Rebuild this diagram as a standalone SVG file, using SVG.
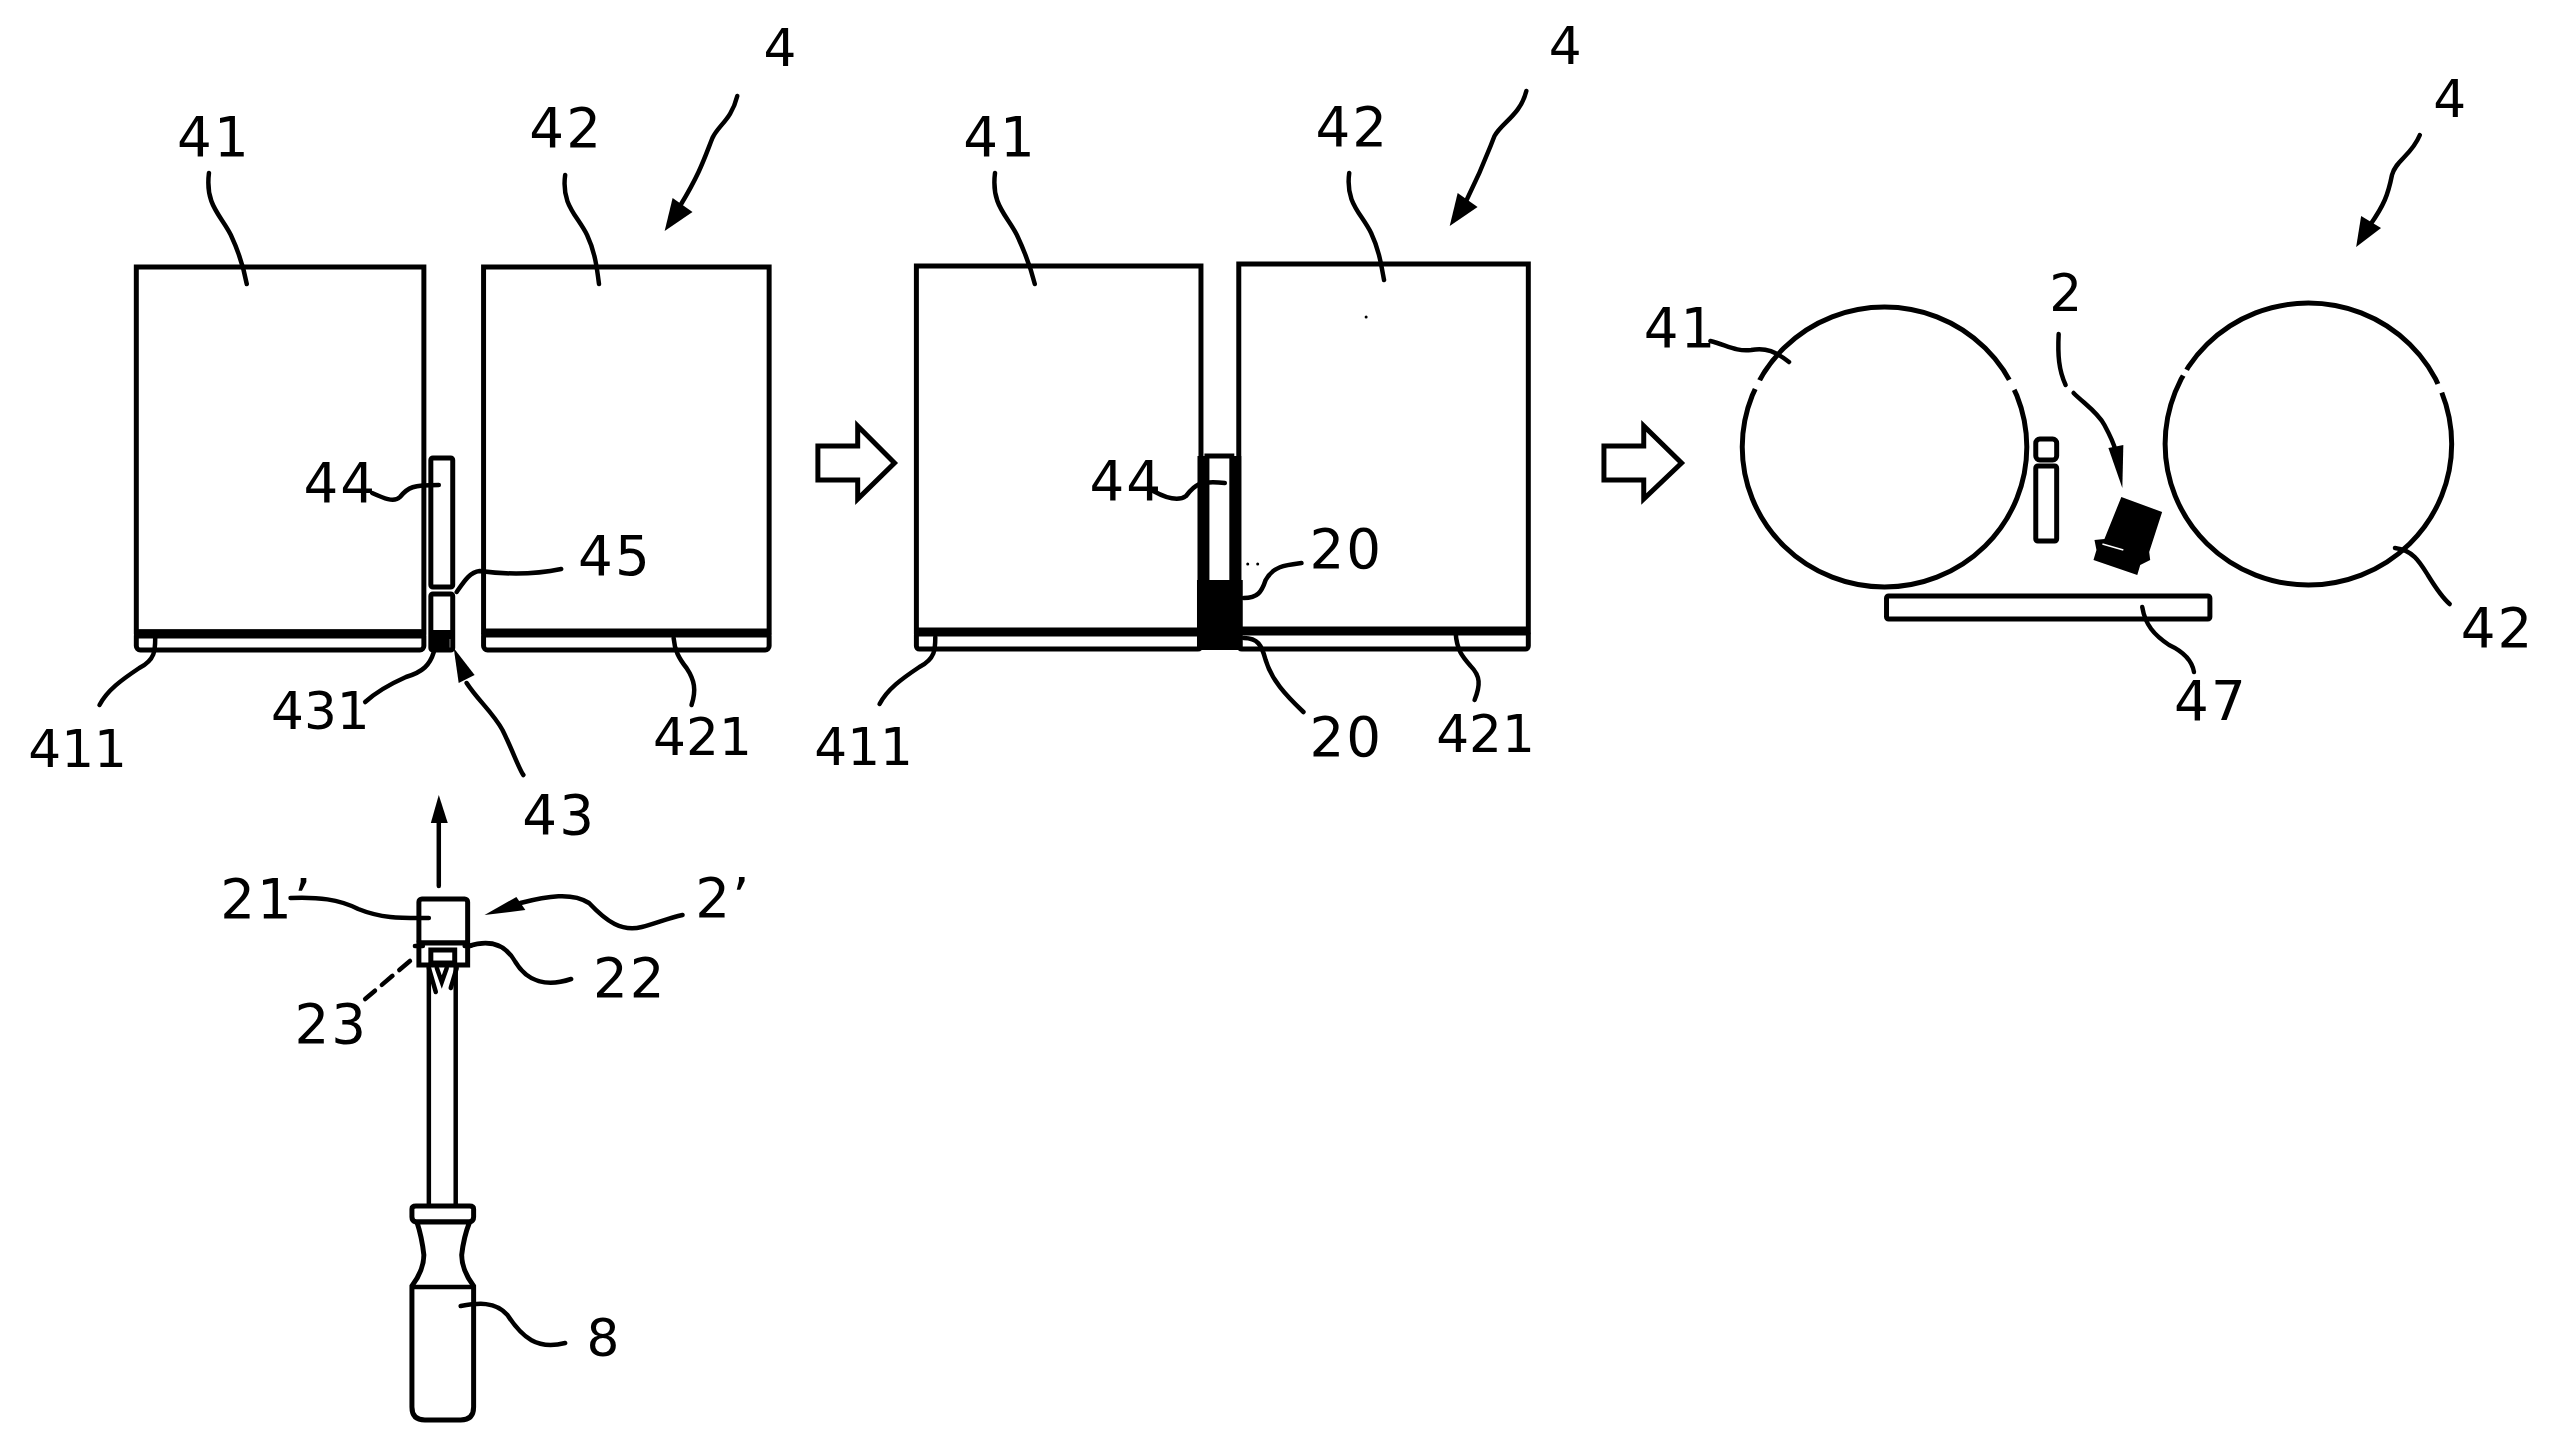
<svg xmlns="http://www.w3.org/2000/svg" width="2574" height="1446" viewBox="0 0 2574 1446">
<style>
text{font-family:"DejaVu Sans",sans-serif;font-size:52px;fill:#000;text-anchor:middle}
.w{font-size:55px;letter-spacing:2px}
.s{fill:#fff;stroke:#000;stroke-width:5}
.t{fill:#fff;stroke:#000;stroke-width:5}
.b{fill:none;stroke:#000;stroke-width:9}
.l{fill:none;stroke:#000;stroke-width:4.5;stroke-linecap:round}
.h{fill:#000;stroke:none}
</style>
<rect width="2574" height="1446" fill="#fff"/>
<g transform="scale(.995 1)">

<g id="panel-a">
<g id="a-41"><rect class="s" x="137" y="267" width="289" height="365"/></g>
<g id="a-42"><rect class="s" x="486" y="267" width="287" height="365"/></g>
<g id="a-411"><rect class="t" x="137" y="632" width="289" height="18" rx="4"/><line class="b" x1="137" y1="634" x2="426" y2="634"/></g>
<g id="a-421"><rect class="t" x="486" y="632" width="287" height="18" rx="4"/><line class="b" x1="486" y1="633" x2="773" y2="633"/></g>
<g id="a-44"><rect class="s" x="433" y="458" width="22" height="129" rx="2"/></g>
<g id="a-43"><rect class="s" x="433" y="594" width="22" height="56" rx="2"/><path class="h" d="M433 630h22v9h-3v9h-11v-9h-8zM433 639h8v11h-8z"/></g>
</g>

<g id="arrow-1"><path class="s" d="M822 446h40v-20l37 37-37 36v-19h-40z"/></g>

<g id="panel-b">
<g id="b-41"><rect class="s" x="921" y="266" width="286" height="366"/></g>
<g id="b-42"><rect class="s" x="1245" y="264" width="291" height="368"/></g>
<g id="b-411"><rect class="t" x="921" y="632" width="286" height="17" rx="3"/><line class="b" x1="921" y1="632" x2="1207" y2="632"/></g>
<g id="b-421"><rect class="t" x="1245" y="632" width="291" height="17" rx="3"/><line class="b" x1="1245" y1="631" x2="1536" y2="631"/></g>
<g id="b-44"><rect class="s" x="1213" y="456" width="25" height="130"/><line class="b" x1="1208" y1="456" x2="1208" y2="590"/><line class="b" x1="1243" y1="456" x2="1243" y2="590"/></g>
<g id="b-20"><rect class="h" x="1203" y="580" width="46" height="70"/></g>
<circle class="h" cx="1373" cy="317" r="1.5"/>
<circle class="h" cx="1254" cy="564" r="1.5"/><circle class="h" cx="1264" cy="564" r="1.5"/>
</g>

<g id="arrow-2"><path class="s" d="M1612 446h40v-20l38 37-38 36v-19h-40z"/></g>

<g id="panel-c">
<g id="c-41"><ellipse class="s" cx="1894" cy="447" rx="143" ry="140"/></g>
<g id="c-42"><ellipse class="s" cx="2320" cy="444" rx="144" ry="141"/></g>
<g id="c-gaps" fill="none" stroke="#fff" stroke-width="9"><path d="M2019 380l5 10M1768 380l-4 9M2198 370l-3 6M2450 384l3 9"/></g>
<g id="c-dot"><rect class="s" x="2046" y="439" width="21" height="21" rx="4"/></g>
<g id="c-bar"><rect class="s" x="2046" y="466" width="21" height="75" rx="2"/></g>
<g id="c-2"><polygon class="h" points="2132,497 2173,512 2160,552 2161,560 2151,565 2148,575 2104,560 2107,550 2105,540 2115,539"/><line x1="2113" y1="544" x2="2134" y2="550" stroke="#fff" stroke-width="1.5"/></g>
<g id="c-47"><rect class="s" x="1896" y="596" width="325" height="23" rx="2"/></g>
</g>

<g id="tool">
<g id="tool-cap"><rect class="s" x="421" y="899" width="49" height="44" rx="3"/></g>
<g id="tool-collar"><path class="s" d="M421 943h49v22h-49z"/><rect class="s" x="433" y="950" width="24" height="13"/><path class="l" d="M417 946h8M467 946h6"/></g>
<g id="tool-shaft"><path class="l" d="M431 965v241M458 965v241" stroke-width="6"/><path class="l" d="M431 968l7 24M459 968l-6 20M439 968l5 14 5-14"/></g>
<g id="tool-handle"><path class="s" d="M418 1206h54q4 0 4 3v8q0 4-4 5h-54q-4-1-4-5v-8q0-3 4-3z"/><path class="s" d="M419 1222q5 15 7 33 0 15-12 31v121q0 13 13 13h36q13 0 13-13v-121q-12-16-12-31 2-18 8-33z"/><line class="l" x1="415" y1="1287" x2="475" y2="1287"/></g>
</g>

<g id="connectors">
<path class="l" d="M741 96C735 120 722 125 716 138C708 158 704 172 684 205"/><polygon class="h" points="668,231 676,198 696,212"/>
<path class="l" d="M1534 91C1528 115 1510 122 1502 136C1494 156 1490 168 1474 200"/><polygon class="h" points="1457,226 1465,193 1485,207"/>
<path class="l" d="M2432 135C2424 155 2408 160 2404 175C2400 195 2396 205 2382 225"/><polygon class="h" points="2368,247 2373,216 2393,228"/>

<path class="l" d="M210 173C206 205 222 215 232 235C240 252 245 268 248 284"/>
<path class="l" d="M568 175C564 205 580 215 590 235C598 252 600 268 602 284"/>
<path class="l" d="M1000 173C996 205 1012 215 1022 235C1030 252 1036 268 1040 284"/>
<path class="l" d="M1356 173C1352 203 1368 213 1378 233C1386 250 1388 264 1391 280"/>

<path class="l" d="M374 493C385 498 396 503 402 497C410 487 415 485 441 485"/>
<path class="l" d="M459 592C466 582 472 572 482 571C505 574 535 575 564 569"/>
<path class="l" d="M156 638C156 650 156 660 140 668C122 680 108 690 100 705"/>
<path class="l" d="M436 652C432 665 425 672 408 677C390 685 378 692 367 702"/>
<path class="l" d="M469 683C480 700 495 712 505 730C515 750 522 770 526 775"/><polygon class="h" points="456,648 477,675 461,683"/>
<path class="l" d="M677 638C678 650 682 658 690 668C698 680 700 690 695 705"/>
<line class="l" x1="441" y1="886" x2="441" y2="815"/><polygon class="h" points="441,795 433,823 450,823"/>

<path class="l" d="M292 898C320 897 340 899 360 909C385 919 405 918 431 918"/>
<path class="l" d="M523 903C550 896 575 892 592 903C610 922 625 932 645 927C660 923 672 918 686 915"/><polygon class="h" points="487,915 519,897 528,910"/>
<path class="l" d="M471 946C490 940 507 942 518 962C530 982 550 987 574 979"/>
<path class="l" d="M412 961L367 999" stroke-dasharray="14 9"/>
<path class="l" d="M463 1306C480 1303 498 1301 510 1315C525 1338 540 1350 568 1343"/>

<path class="l" d="M940 637C940 649 940 659 924 667C906 679 892 689 884 704"/>
<path class="l" d="M1159 491C1170 497 1184 502 1192 496C1200 486 1204 480 1231 483"/>
<path class="l" d="M1250 598C1264 598 1268 592 1272 580C1280 566 1292 565 1308 563"/>
<path class="l" d="M1250 638C1264 638 1268 645 1272 660C1278 680 1292 695 1310 712"/>
<path class="l" d="M1463 633C1464 650 1470 657 1478 666C1488 676 1488 685 1482 700"/>

<path class="l" d="M1719 341C1735 345 1745 352 1760 350C1775 347 1785 352 1798 362"/>
<path class="l" d="M2407 548C2425 550 2432 562 2440 575C2448 588 2455 598 2462 604"/>
<path class="l" d="M2069 334C2068 355 2069 370 2076 385"/>
<path class="l" d="M2084 393C2095 404 2108 412 2115 425C2122 438 2124 442 2126 450"/><polygon class="h" points="2133,488 2119,448 2134,445"/>
<path class="l" d="M2153 607C2156 625 2165 635 2180 645C2195 652 2203 660 2205 672"/>
</g>

<g id="labels">
<text x="784" y="66">4</text><text x="215" y="156" class="w">41</text><text x="569" y="147" class="w">42</text>
<text x="342" y="502" class="w">44</text><text x="618" y="575" class="w">45</text><text x="78" y="767">411</text>
<text x="322" y="729">431</text><text x="562" y="834" class="w">43</text><text x="706" y="755">421</text>
<text x="268" y="918" class="w">21’</text><text x="727" y="917" class="w">2’</text><text x="633" y="997" class="w">22</text>
<text x="333" y="1043" class="w">23</text><text x="606" y="1356">8</text>
<text x="1573" y="64">4</text><text x="1005" y="156" class="w">41</text><text x="1359" y="146" class="w">42</text>
<text x="1132" y="500" class="w">44</text><text x="1353" y="568" class="w">20</text><text x="1353" y="756" class="w">20</text>
<text x="868" y="765">411</text><text x="1493" y="752">421</text>
<text x="2462" y="117">4</text><text x="2076" y="311">2</text><text x="1689" y="347" class="w">41</text>
<text x="2510" y="647" class="w">42</text><text x="2222" y="720" class="w">47</text>
</g>
</g>
</svg>
